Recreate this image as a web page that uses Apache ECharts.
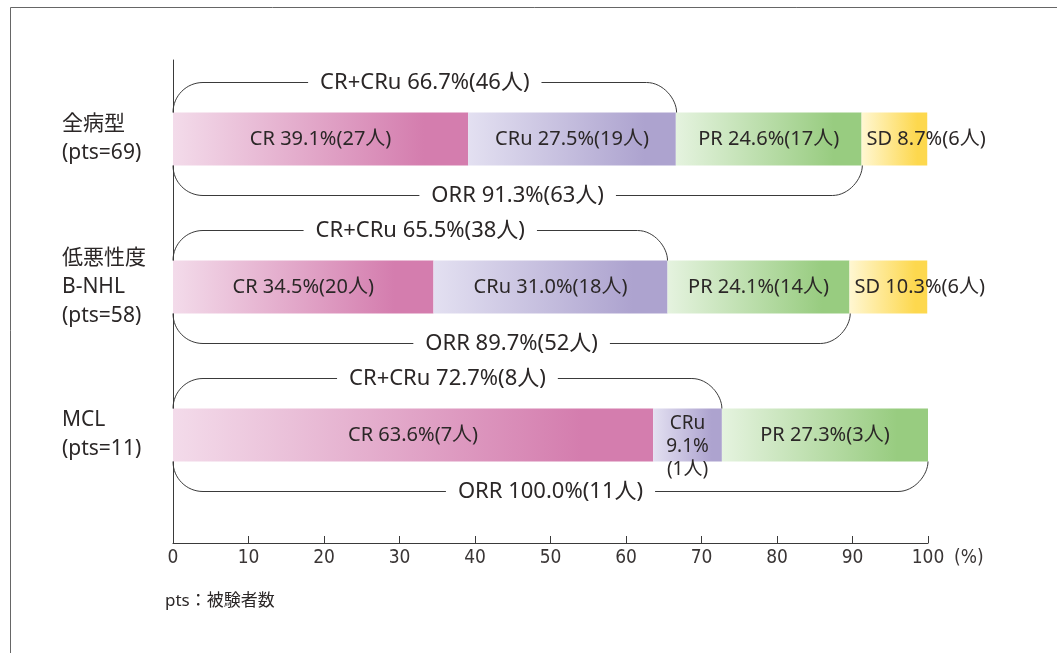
<!DOCTYPE html>
<html><head><meta charset="utf-8">
<script src="https://cdn.jsdelivr.net/npm/echarts@6/dist/echarts.min.js"></script>
<style>html,body{margin:0;padding:0;background:#fff}#c{width:1057px;height:653px}</style>
</head><body><div id="c"></div>
<script>
const categories = ['全病型\n(pts=69)', '低悪性度\nB-NHL\n(pts=58)', 'MCL\n(pts=11)'];
const crValues = [39.1, 34.5, 63.6];
const crCounts = [27, 20, 7];
const cruValues = [27.5, 31.0, 9.1];
const cruCounts = [19, 18, 1];
const prValues = [24.6, 24.1, 27.3];
const prCounts = [17, 14, 3];
const sdValues = [8.7, 10.3, 0];
const sdCounts = [6, 6, 0];
const crCruValues = [66.7, 65.5, 72.7];
const crCruCounts = [46, 38, 8];
const orrValues = [91.3, 89.7, 100.0];
const orrCounts = [63, 52, 11];
const xTickValues = [0, 10, 20, 30, 40, 50, 60, 70, 80, 90, 100];

const FONT = "'Noto Sans', 'Noto Sans CJK JP', sans-serif";
const AXFONT = "'Liberation Sans Narrow', 'DejaVu Sans Condensed', 'Noto Sans', sans-serif";
const TXT = '#2b2727';
const BAR_H = 53;

function grad(c0, c1) {
  return new echarts.graphic.LinearGradient(0, 0, 1, 0, [
    { offset: 0, color: c0 }, { offset: 0.85, color: c1 }, { offset: 1, color: c1 }
  ]);
}
function seg(name, values, counts, c0, c1, isSD) {
  return {
    type: 'bar', name, stack: 'all', xAxisIndex: 0, yAxisIndex: 0,
    barWidth: BAR_H,
    itemStyle: { color: grad(c0, c1) },
    label: {
      show: true, position: isSD ? 'insideLeft' : 'inside', distance: 5,
      color: TXT, fontFamily: FONT, fontSize: 20
    },
    data: values.map((v, i) => {
      if (!v) return { value: v, label: { show: false } };
      const narrow = !isSD && v < 15;
      return {
        value: v,
        label: narrow ? {
          formatter: '\n' + name + '\n' + v.toFixed(1) + '%\n(' + counts[i] + '人)',
          lineHeight: 23, fontSize: 19
        } : { formatter: name + ' ' + v.toFixed(1) + '%(' + counts[i] + '人)' }
      };
    })
  };
}

const bracketData = [];
const bracketLabels = [];
for (let i = 0; i < categories.length; i++) {
  bracketData.push([crCruValues[i], i, 1]);
  bracketLabels.push('CR+CRu ' + crCruValues[i].toFixed(1) + '%(' + crCruCounts[i] + '人)');
  bracketData.push([orrValues[i], i, -1]);
  bracketLabels.push('ORR ' + orrValues[i].toFixed(1) + '%(' + orrCounts[i] + '人)');
}

const chart = echarts.init(document.getElementById('c'), null, { renderer: 'canvas' });
chart.setOption({
  animation: false,
  backgroundColor: '#fff',
  grid: [
    { left: 173, width: 755, top: 65, height: 444 },
    { left: 173, width: 755, top: 60, height: 483 }
  ],
  xAxis: [
    { gridIndex: 0, type: 'value', min: 0, max: 100, show: false },
    {
      gridIndex: 1, type: 'value', min: 0, max: 100, interval: 10,
      axisLine: { show: true, onZero: false, lineStyle: { color: '#3a3a3a', width: 1.2 } },
      axisTick: { show: true, inside: true, length: 7, lineStyle: { color: '#3a3a3a' } },
      splitLine: { show: false },
      axisLabel: {
        margin: 6, color: '#3a3636', fontFamily: AXFONT, fontSize: 19,
        formatter: v => xTickValues.indexOf(v) >= 0 ? String(v) : ''
      },
      name: '(%)', nameLocation: 'end', nameGap: 26,
      nameTextStyle: { color: '#3a3636', fontFamily: AXFONT, fontSize: 19, verticalAlign: 'top', padding: [6, 0, 0, 0] }
    }
  ],
  yAxis: [
    {
      gridIndex: 0, type: 'category', inverse: true, data: categories,
      axisLine: { show: false }, axisTick: { show: false },
      axisLabel: { align: 'left', margin: 111, color: TXT, fontFamily: FONT, fontSize: 21, lineHeight: 29 }
    },
    {
      gridIndex: 1, type: 'value', min: 0, max: 1,
      axisLine: { show: true, lineStyle: { color: '#3a3a3a', width: 1 } },
      axisTick: { show: false }, axisLabel: { show: false }, splitLine: { show: false }
    }
  ],
  graphic: [
    { type: 'rect', silent: true, shape: { x: 10.5, y: 7.5, width: 1200, height: 800 },
      style: { fill: 'none', stroke: '#666', lineWidth: 1 } },
    { type: 'text', left: 165, top: 593,
      style: { text: 'pts：被験者数', fill: TXT, fontFamily: FONT, fontSize: 17 } }
  ],
  series: [
    seg('CR', crValues, crCounts, '#f3dbea', '#d47dae', false),
    seg('CRu', cruValues, cruCounts, '#e3e0f1', '#ada3cf', false),
    seg('PR', prValues, prCounts, '#e5f3df', '#98cc80', false),
    seg('SD', sdValues, sdCounts, '#fff7d2', '#fdd84e', true),
    {
      type: 'custom', xAxisIndex: 0, yAxisIndex: 0,
      encode: { x: 0, y: 1 },
      data: bracketData,
      z: 5,
      renderItem: function (params, api) {
        const end = api.value(0), cat = api.value(1), side = api.value(2);
        const p0 = api.coord([0, cat]);
        const p1 = api.coord([end, cat]);
        const dir = side > 0 ? -1 : 1;
        const r = 30;
        const k = 0.5523 * r;
        const yE = p0[1] + dir * BAR_H / 2;
        const yL = yE + dir * r;
        const x0 = p0[0], x1 = p1[0];
        const d = 'M' + x0 + ' ' + yE +
          ' C' + x0 + ' ' + (yE + dir * k) + ' ' + (x0 + r - k) + ' ' + yL + ' ' + (x0 + r) + ' ' + yL +
          ' L' + (x1 - r) + ' ' + yL +
          ' C' + (x1 - r + k) + ' ' + yL + ' ' + x1 + ' ' + (yL - dir * k) + ' ' + x1 + ' ' + yE;
        return {
          type: 'group',
          children: [
            { type: 'path', shape: { pathData: d }, style: { stroke: '#3a3a3a', fill: null, lineWidth: 1 } },
            { type: 'text', style: {
                text: bracketLabels[params.dataIndex], x: (x0 + x1) / 2, y: yL,
                align: 'center', verticalAlign: 'middle', fill: TXT,
                fontFamily: FONT, fontSize: 22, backgroundColor: '#fff', padding: [2, 12]
              } }
          ]
        };
      }
    }
  ]
});
</script></body></html>
